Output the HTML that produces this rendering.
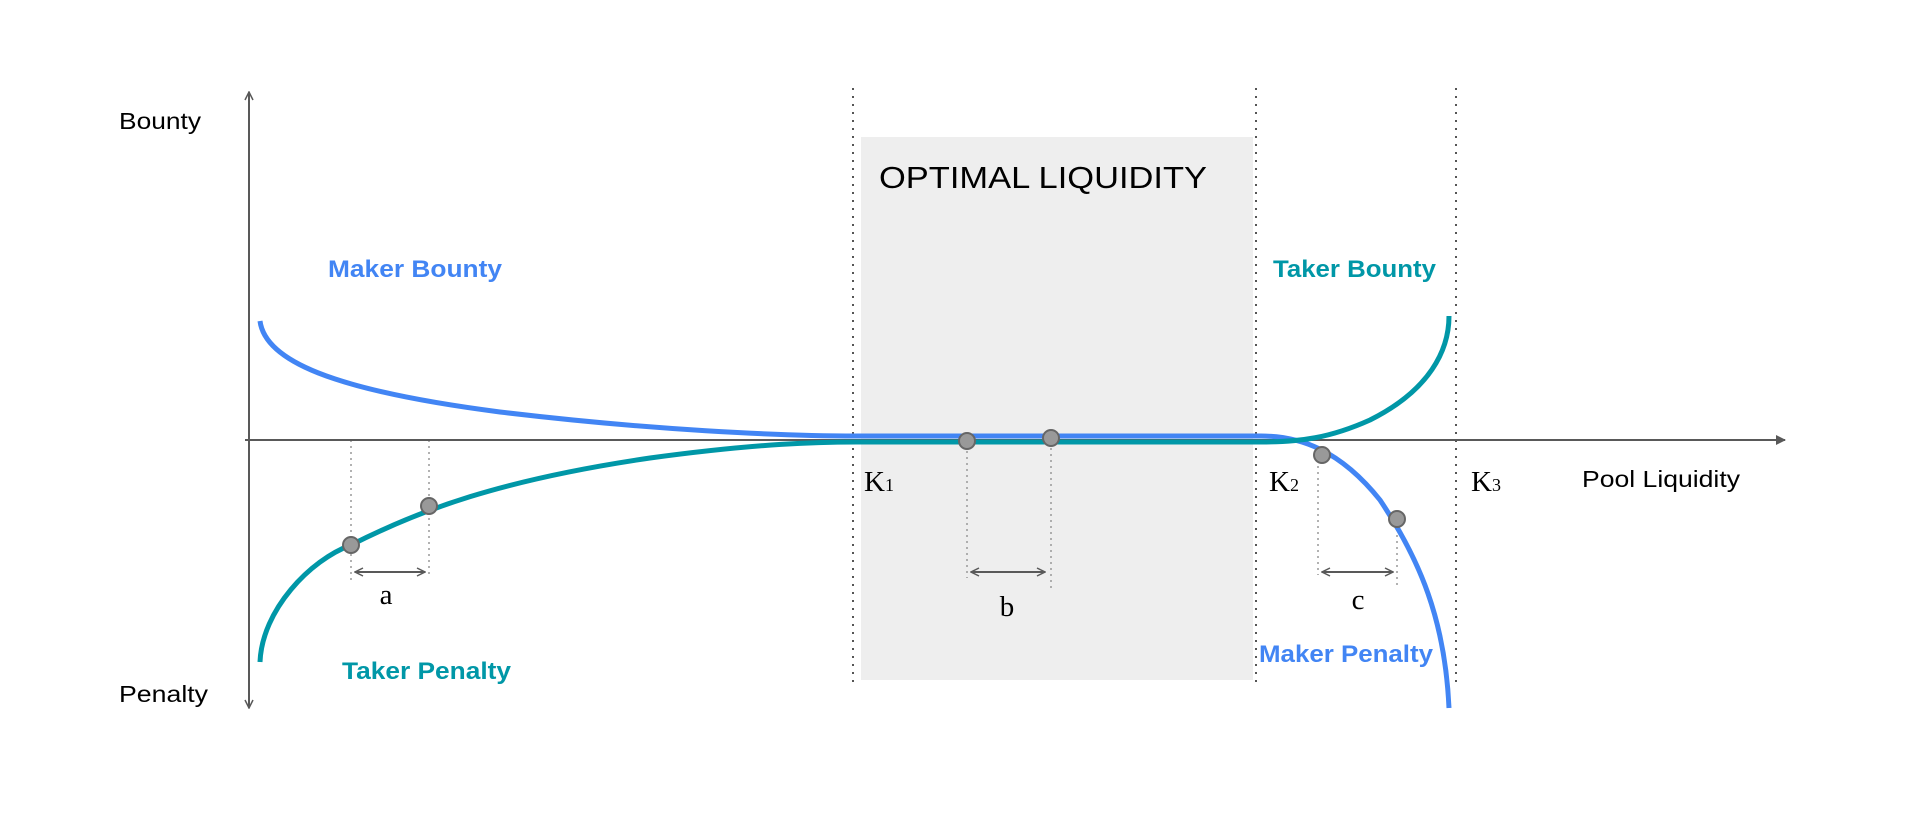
<!DOCTYPE html>
<html><head><meta charset="utf-8"><style>
html,body{margin:0;padding:0;background:#fff;}
svg{display:block;}
.s{font-family:"Liberation Sans",sans-serif;}
.r{font-family:"Liberation Serif",serif;}
</style></head><body>
<svg width="1920" height="824" viewBox="0 0 1920 824" xmlns="http://www.w3.org/2000/svg">
<defs>
<marker id="ar" markerWidth="10" markerHeight="10" refX="9" refY="5" orient="auto" markerUnits="userSpaceOnUse"><path d="M0,0 L10,5 L0,10 z" fill="#595959"/></marker>
<marker id="oa" markerWidth="10" markerHeight="10" refX="9" refY="5" orient="auto-start-reverse" markerUnits="userSpaceOnUse"><path d="M1,1 L9,5 L1,9" fill="none" stroke="#595959" stroke-width="1.5"/></marker>
</defs>
<rect x="861" y="137" width="392" height="543" fill="#eeeeee"/>
<g stroke="#555" stroke-width="2" stroke-dasharray="2,6" fill="none">
<line x1="853" y1="88" x2="853" y2="682"/>
<line x1="1256" y1="88" x2="1256" y2="682"/>
<line x1="1456" y1="88" x2="1456" y2="682"/>
</g>
<g stroke="#999" stroke-width="1.5" stroke-dasharray="2,4" fill="none">
<line x1="351" y1="440" x2="351" y2="580"/>
<line x1="429" y1="440" x2="429" y2="575"/>
<line x1="967" y1="445" x2="967" y2="578"/>
<line x1="1051" y1="442" x2="1051" y2="590"/>
<line x1="1318" y1="460" x2="1318" y2="575"/>
<line x1="1397" y1="523" x2="1397" y2="585"/>
</g>
<line x1="249" y1="708" x2="249" y2="92" stroke="#595959" stroke-width="2" marker-end="url(#oa)" marker-start="url(#oa)"/>
<line x1="245" y1="440" x2="1785" y2="440" stroke="#595959" stroke-width="2" marker-end="url(#ar)"/>
<path d="M260,321 C265,360 330,390 500,412 C650,430 780,436 857,436 L1261,436 C1300,436 1340,450 1380,500 C1420,560 1445,620 1449,708" fill="none" stroke="#4285f4" stroke-width="5"/>
<path d="M260,662 C262,610 310,560 351,545 C420,510 500,480 650,458 C760,443 820,442 857,442 L1261,442 C1300,442 1330,438 1370,420 C1430,390 1449,350 1449,316" fill="none" stroke="#0097a7" stroke-width="5"/>
<g fill="#999" stroke="#666" stroke-width="2">
<circle cx="351" cy="545" r="8"/><circle cx="429" cy="506" r="8"/>
<circle cx="967" cy="441" r="8"/><circle cx="1051" cy="438" r="8"/>
<circle cx="1322" cy="455" r="8"/><circle cx="1397" cy="519" r="8"/>
</g>
<g stroke="#595959" stroke-width="2">
<line x1="355" y1="572" x2="425" y2="572" marker-start="url(#oa)" marker-end="url(#oa)"/>
<line x1="971" y1="572" x2="1045" y2="572" marker-start="url(#oa)" marker-end="url(#oa)"/>
<line x1="1322" y1="572" x2="1393" y2="572" marker-start="url(#oa)" marker-end="url(#oa)"/>
</g>
<text class="s" x="119" y="129" font-size="23" textLength="82" lengthAdjust="spacingAndGlyphs" fill="#000">Bounty</text>
<text class="s" x="119" y="702" font-size="23" textLength="89" lengthAdjust="spacingAndGlyphs" fill="#000">Penalty</text>
<text class="s" x="879" y="188" font-size="31" textLength="328" lengthAdjust="spacingAndGlyphs" fill="#000">OPTIMAL LIQUIDITY</text>
<text class="s" x="328" y="277" font-size="24" font-weight="bold" textLength="174" lengthAdjust="spacingAndGlyphs" fill="#4285f4">Maker Bounty</text>
<text class="s" x="1273" y="277" font-size="24" font-weight="bold" textLength="163" lengthAdjust="spacingAndGlyphs" fill="#0097a7">Taker Bounty</text>
<text class="s" x="342" y="679" font-size="24" font-weight="bold" textLength="169" lengthAdjust="spacingAndGlyphs" fill="#0097a7">Taker Penalty</text>
<text class="s" x="1259" y="662" font-size="24" font-weight="bold" textLength="174" lengthAdjust="spacingAndGlyphs" fill="#4285f4">Maker Penalty</text>
<text class="s" x="1582" y="487" font-size="23" textLength="158" lengthAdjust="spacingAndGlyphs" fill="#000">Pool Liquidity</text>
<text class="r" x="864" y="491" font-size="29" fill="#000">K<tspan font-size="18">1</tspan></text>
<text class="r" x="1269" y="491" font-size="29" fill="#000">K<tspan font-size="18">2</tspan></text>
<text class="r" x="1471" y="491" font-size="29" fill="#000">K<tspan font-size="18">3</tspan></text>
<text class="r" x="386" y="604" font-size="29" text-anchor="middle" fill="#000">a</text>
<text class="r" x="1007" y="616" font-size="29" text-anchor="middle" fill="#000">b</text>
<text class="r" x="1358" y="609" font-size="29" text-anchor="middle" fill="#000">c</text>
</svg>
</body></html>
